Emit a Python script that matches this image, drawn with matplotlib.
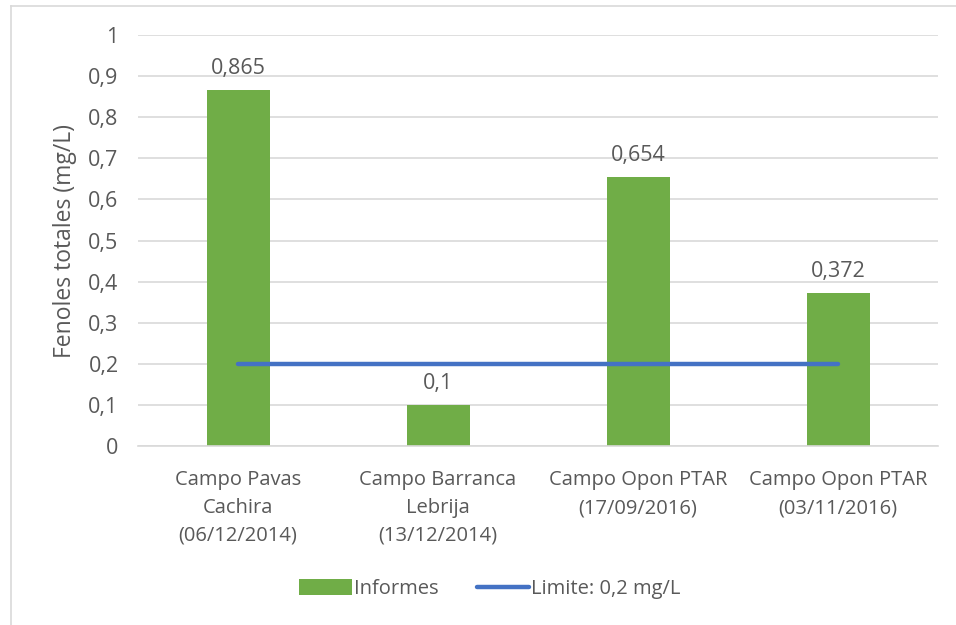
import matplotlib
matplotlib.use("Agg")
import matplotlib.pyplot as plt
from matplotlib.lines import Line2D
from matplotlib.patches import Patch

categories = ["Campo Pavas\nCachira\n(06/12/2014)",
              "Campo Barranca\nLebrija\n(13/12/2014)",
              "Campo Opon PTAR\n(17/09/2016)",
              "Campo Opon PTAR\n(03/11/2016)"]
informes = [0.865, 0.1, 0.654, 0.372]
informes_labels = ["0,865", "0,1", "0,654", "0,372"]
limite = [0.2, 0.2, 0.2, 0.2]
yticks = [0, 0.1, 0.2, 0.3, 0.4, 0.5, 0.6, 0.7, 0.8, 0.9, 1]
ytick_labels = ["0", "0,1", "0,2", "0,3", "0,4", "0,5", "0,6", "0,7", "0,8", "0,9", "1"]

plt.rcParams['font.family'] = ['Open Sans', 'DejaVu Sans']
txt = "#595959"
green = "#70AD47"
blue = "#4472C4"

fig = plt.figure(figsize=(9.56, 6.25), dpi=100)
ax = fig.add_axes([138/956, 1-446/625, 800/956, 411/625])

x = list(range(len(categories)))
bars = ax.bar(x, informes, width=0.315, color=green, zorder=2)
ax.plot(x, limite, color=blue, linewidth=3.2, solid_capstyle='round', zorder=3)

for xi, v, lab in zip(x, informes, informes_labels):
    ax.annotate(lab, (xi, v), xytext=(0, 8), textcoords='offset points',
                ha='center', va='bottom', fontsize=15.5, color=txt)

ax.set_xlim(-0.5, 3.5)
ax.set_ylim(0, 1)
ax.set_yticks(yticks)
ax.set_yticklabels(ytick_labels, fontsize=15.5, color=txt)
ax.set_xticks(x)
ax.set_xticklabels(categories, fontsize=14.5, color=txt, linespacing=1.52)
ax.tick_params(axis='both', length=0)
ax.tick_params(axis='y', pad=14)
ax.tick_params(axis='x', pad=17.5)
ax.grid(axis='y', color="#D9D9D9", linewidth=1.2, zorder=0)
ax.set_axisbelow(True)
for s in ['top', 'right', 'left']:
    ax.spines[s].set_visible(False)
ax.spines['bottom'].set_color("#D9D9D9")
ax.spines['bottom'].set_linewidth(1.2)
ax.set_ylabel("Fenoles totales (mg/L)", fontsize=16.5, color=txt, labelpad=8)

handles = [Patch(facecolor=green, edgecolor='none'),
           Line2D([0], [0], color=blue, linewidth=3.2, solid_capstyle='round')]
fig.legend(handles, ["Informes", "Limite: 0,2 mg/L"], loc='center',
           bbox_to_anchor=(490/956, 1-589/625), ncol=2, frameon=False,
           fontsize=14.5, labelcolor=txt, handlelength=2.6, handletextpad=0.1,
           columnspacing=1.9, handleheight=0.8)

# outer border (top and left only, as in cropped reference)
fig.add_artist(Line2D([11/956, 1], [1-6/625, 1-6/625], color="#D9D9D9", linewidth=1.2))
fig.add_artist(Line2D([11/956, 11/956], [0, 1-6/625], color="#D9D9D9", linewidth=1.2))

fig.savefig("out.png", dpi=100)
